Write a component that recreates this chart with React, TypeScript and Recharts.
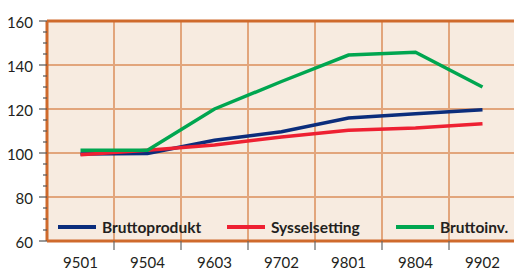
import { LineChart, Line, XAxis, YAxis, CartesianGrid, ReferenceLine, Legend } from "recharts";

const periods = ["9501", "9504", "9603", "9702", "9801", "9804", "9902"];
const bruttoprodukt = [99.5, 99.8, 105.8, 109.7, 115.9, 117.8, 119.7];
const sysselsetting = [99.2, 101.3, 103.6, 107.3, 110.3, 111.4, 113.3];
const bruttoinv = [101.2, 101.2, 120, 132.5, 144.5, 145.8, 130];
const seriesNames = ["Bruttoprodukt", "Sysselsetting", "Bruttoinv."];

const yTicks = [60, 65, 70, 75, 80, 85, 90, 95, 100, 105, 110, 115, 120, 125, 130, 135, 140, 145, 150, 155, 160];
const yGrid = [80, 100, 120, 140];

const data = periods.map((p, i) => ({
  period: p,
  Bruttoprodukt: bruttoprodukt[i],
  Sysselsetting: sysselsetting[i],
  "Bruttoinv.": bruttoinv[i],
}));

const FONT = "Lato, 'Open Sans', sans-serif";
const TEXT = "#231F20";
const ORANGE = "#CF6A2C";
const GRID = "#E2A57C";
const TICK_SIZE = 8;
const TICK_MARGIN = 6;
const X_OFF = 16;

const YTick = (props: any) => {
  const { x, y, payload } = props;
  const v = payload.value;
  const major = v % 20 === 0;
  const ax = x + TICK_SIZE + TICK_MARGIN;
  return (
    <g>
      <line x1={ax - (major ? 8 : 4)} x2={ax} y1={y} y2={y} stroke="#555" strokeWidth={1.2} />
      {major && (
        <text x={x} y={y} dy={7} textAnchor="end" fontSize={15} fontFamily={FONT} fill={TEXT}>
          {v}
        </text>
      )}
    </g>
  );
};

// label at band centre, tick mark at the band's left edge
const XTick = (props: any) => {
  const { x, y, payload, index } = props;
  const half = payload.offset || 0;
  const ay = y - X_OFF;
  return (
    <g>
      {index > 0 && <line x1={x - half} x2={x - half} y1={ay} y2={ay + 9} stroke="#666" strokeWidth={1.2} />}
      <text x={x} y={y} dy="0.71em" textAnchor="middle" fontSize={15} fontFamily={FONT} fill={TEXT}>
        {payload.value}
      </text>
    </g>
  );
};

const LegendContent = (props: any) => {
  const items = seriesNames.map((n) => props.payload.find((p: any) => p.value === n)).filter(Boolean);
  return (
    <div style={{ display: "flex" }}>
      {items.map((item: any) => (
        <div key={item.value} style={{ width: 169, display: "flex", alignItems: "center" }}>
          <div style={{ width: 38, height: 4, background: item.color, marginRight: 6 }} />
          <span style={{ fontFamily: FONT, fontWeight: 700, fontSize: 15.5, color: TEXT }}>{item.value}</span>
        </div>
      ))}
    </div>
  );
};

export default function App() {
  return (
    <div style={{ position: "absolute", left: 0, top: 0, width: 514, height: 271, overflow: "hidden", background: "#fff" }}>
      <LineChart width={520} height={271} data={data} margin={{ top: 21, right: 4, bottom: 0, left: 0 }}>
        <CartesianGrid fill="#F7EBE0" horizontal={false} vertical={false} />
        <XAxis
          dataKey="period"
          scale="band"
          interval={0}
          height={30}
          axisLine={{ stroke: ORANGE, strokeWidth: 3 }}
          tickLine={false}
          tickSize={8}
          tickMargin={8}
          tick={<XTick />}
        />
        <YAxis
          width={47}
          domain={[60, 160]}
          ticks={yTicks}
          interval={0}
          tickLine={false}
          tickSize={TICK_SIZE}
          tickMargin={TICK_MARGIN}
          axisLine={{ stroke: ORANGE, strokeWidth: 3 }}
          tick={<YTick />}
        />
        {yGrid.map((v) => (
          <ReferenceLine key={v} y={v} stroke={GRID} strokeWidth={2} />
        ))}
        {periods.slice(1).map((p) => (
          <ReferenceLine key={p} x={p} position="start" stroke={GRID} strokeWidth={2} />
        ))}
        <ReferenceLine y={160} stroke={ORANGE} strokeWidth={3} />
        <Legend
          layout="horizontal"
          verticalAlign="middle"
          align="center"
          content={<LegendContent />}
          wrapperStyle={{ left: 58, top: 218, width: 520 }}
        />
        <Line dataKey="Bruttoprodukt" stroke="#0B2D7C" strokeWidth={3.5} dot={false} isAnimationActive={false} />
        <Line dataKey="Sysselsetting" stroke="#EE2032" strokeWidth={3.5} dot={false} isAnimationActive={false} />
        <Line dataKey="Bruttoinv." stroke="#00A650" strokeWidth={3.5} dot={false} isAnimationActive={false} />
      </LineChart>
    </div>
  );
}
